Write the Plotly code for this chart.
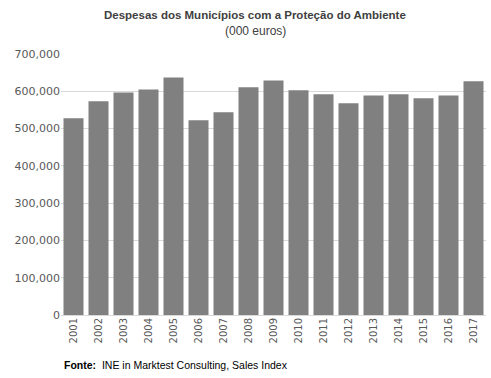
import plotly.graph_objects as go

years = [str(y) for y in range(2001, 2018)]
values = [528000, 573000, 597000, 605000, 637000, 522000, 544000, 611000, 629000,
          603000, 592000, 568000, 589000, 592000, 581000, 589000, 627000]
y_ticks = [0, 100000, 200000, 300000, 400000, 500000, 600000, 700000]
y_tick_labels = ["0", "100,000", "200,000", "300,000", "400,000", "500,000", "600,000", "700,000"]

W, H = 491, 378
l, r, t, b = 60.5, 4.5, 54, 63
pw, ph = W - l - r, H - t - b

def px_x(x):
    return (x - l) / pw

def px_y(y):
    return (H - b - y) / ph

fig = go.Figure(go.Bar(x=years, y=values, marker=dict(color="#808080", line=dict(width=0)),
                       hoverinfo="x+y"))

fig.update_layout(
    width=W, height=H,
    margin=dict(l=l, r=r, t=t, b=b, autoexpand=False),
    paper_bgcolor="white", plot_bgcolor="white",
    bargap=0.2, showlegend=False,
    font=dict(family="DejaVu Sans", color="#595959"),
    xaxis=dict(type="category", tickangle=-90, tickfont=dict(size=10, color="#595959"),
               showgrid=False, showline=False, ticks="", ticklen=0, automargin=False),
    yaxis=dict(range=[0, 700000], tickvals=y_ticks, ticktext=y_tick_labels,
               tickfont=dict(size=11, color="#595959"), showgrid=True, gridcolor="#d9d9d9",
               gridwidth=1, zeroline=True, zerolinecolor="#d9d9d9", zerolinewidth=1,
               showline=False, ticks="", fixedrange=True, automargin=False),
    annotations=[
        dict(text="<b>Despesas dos Municípios com a Proteção do Ambiente</b>", x=px_x(255), y=px_y(15),
             xref="paper", yref="paper", showarrow=False, xanchor="center", yanchor="middle",
             font=dict(family="Liberation Sans", size=11.5, color="#404040")),
        dict(text="(000 euros)", x=px_x(255), y=px_y(31), xref="paper", yref="paper", showarrow=False,
             xanchor="center", yanchor="middle",
             font=dict(family="Liberation Sans", size=12, color="#404040")),
        dict(text="<b>Fonte:</b>  INE in Marktest Consulting, Sales Index", x=px_x(62), y=px_y(365),
             xref="paper", yref="paper", showarrow=False, xanchor="left", yanchor="middle",
             font=dict(family="Liberation Sans", size=10.5, color="#000000")),
    ],
)

fig.write_html("out.html", config={"displayModeBar": False},
               post_script="document.body.style.margin='0';")
